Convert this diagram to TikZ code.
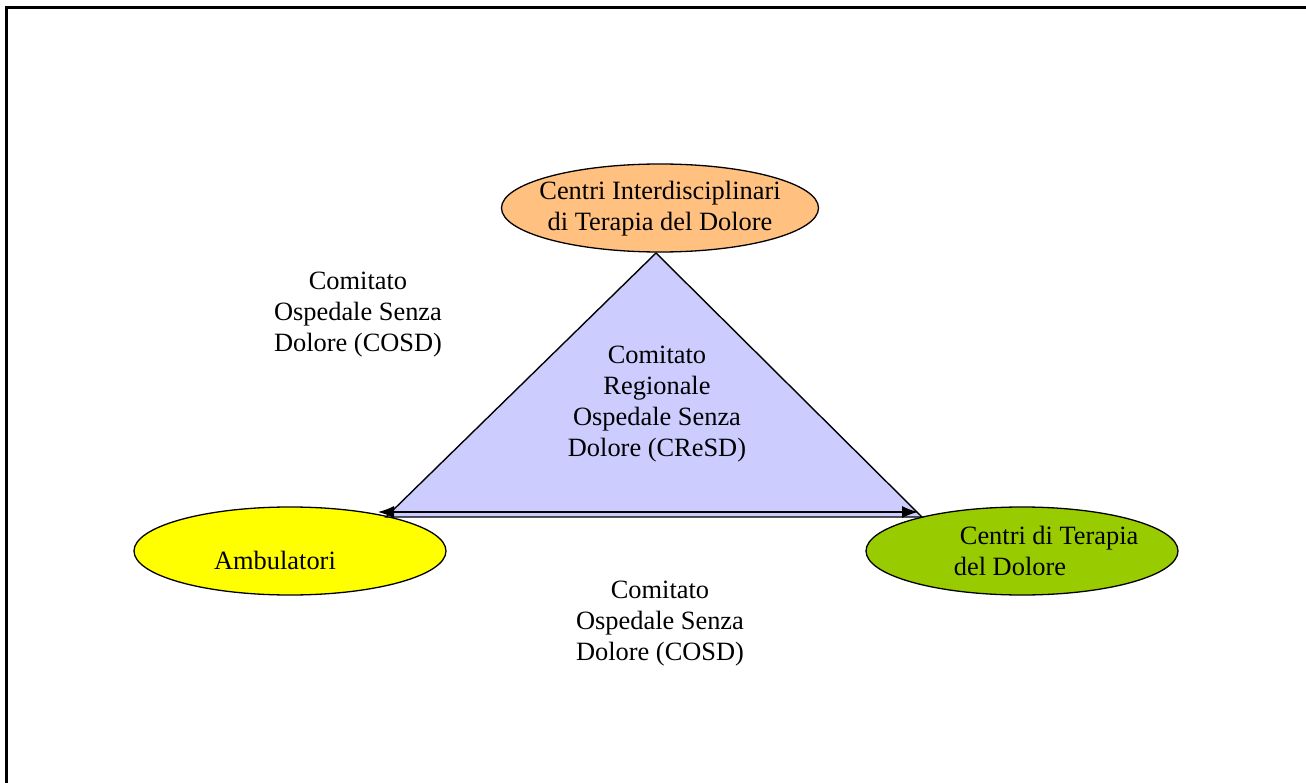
\documentclass[tikz,border=0pt]{standalone}
\usepackage{fontspec}
\setmainfont{Liberation Serif}
\usetikzlibrary{shapes.geometric,arrows.meta}
\definecolor{cidpesca}{HTML}{FFC080}
\definecolor{ambgiallo}{HTML}{FFFF00}
\definecolor{ctdverde}{HTML}{99CC00}
\definecolor{cresdlilla}{HTML}{CCCCFF}

\begin{document}
\begin{tikzpicture}[x=1pt, y=-1pt,
  centro/.style={ellipse, draw, line width=1.3pt, inner sep=0pt, minimum width=312pt, minimum height=88pt},
  testo/.style={align=center, font=\fontsize{26.4}{31}\selectfont}]
 \useasboundingbox (0,0) rectangle (1306,783);
 \draw[line width=2.2pt] (6.5,783) -- (6.5,7.5) -- (1306,7.5);

 \node[centro, minimum width=317pt, fill=cidpesca, label={[testo, yshift=-1pt]center:{Centri Interdisciplinari\\di Terapia del Dolore}}] (CID) at (660,208) {};
 \node[centro, fill=ambgiallo, label={[testo, xshift=-15pt, yshift=-9pt]center:Ambulatori}] (AMB) at (290,551) {};
 \node[centro, fill=ctdverde, label={[testo, align=left, anchor=west, xshift=85pt]west:{\hspace{6pt}Centri di Terapia\\del Dolore}}] (CTD) at (1022,551) {};

 \coordinate (apice) at (656,253);
 \coordinate (baseS) at (386,517);
 \coordinate (baseD) at (922,517);
 \coordinate (frecS) at (378,512);
 \coordinate (frecD) at (918,512);
 \draw[line width=1.4pt, fill=cresdlilla] (apice) -- (baseS) -- (baseD) -- cycle;
 \draw[line width=1.3pt, {Latex[length=16pt, width=12pt]}-{Latex[length=16pt, width=12pt]}] (frecS) -- (frecD);

 \node[testo] (COSDa) at (358,315) {Comitato\\Ospedale Senza\\Dolore (COSD)};
 \node[testo] (CRESD) at (657,404) {Comitato\\Regionale\\Ospedale Senza\\Dolore (CReSD)};
 \node[testo] (COSDb) at (660,624) {Comitato\\Ospedale Senza\\Dolore (COSD)};
\end{tikzpicture}
\end{document}
